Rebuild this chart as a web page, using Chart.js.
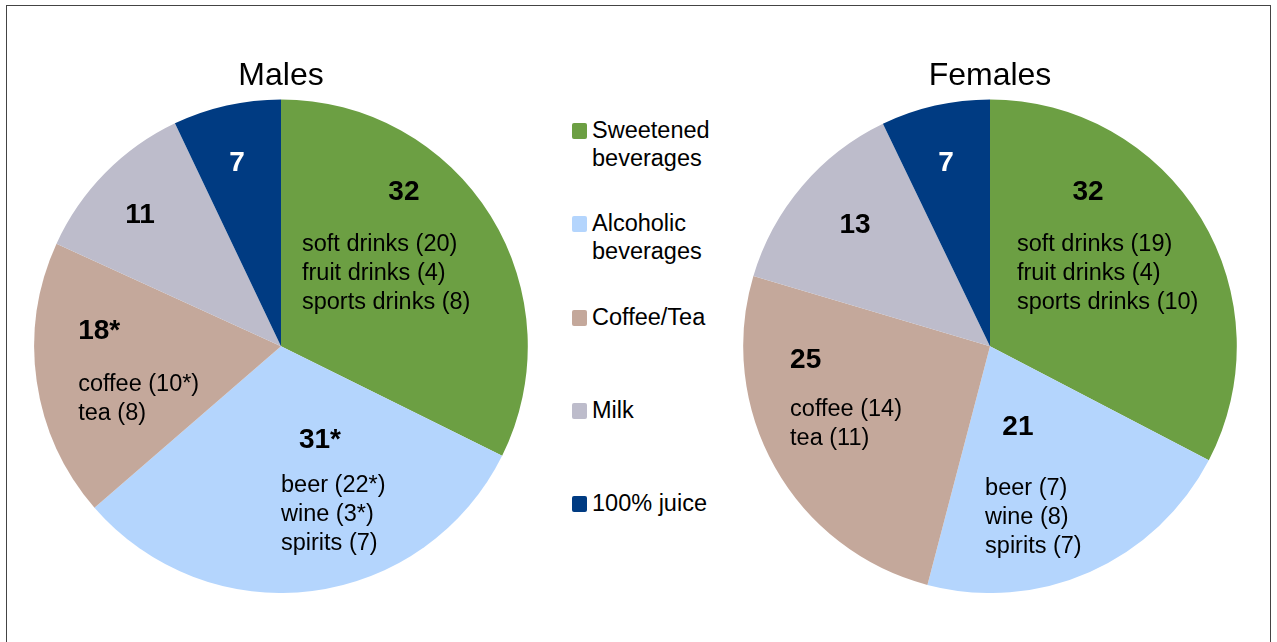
<!DOCTYPE html>
<html>
<head>
<meta charset="utf-8">
<script src="https://cdn.jsdelivr.net/npm/chart.js@4"></script>
<style>
  html, body { margin: 0; padding: 0; background: #fff; }
  #frame { position: absolute; left: 6px; top: 5px; width: 1265px; height: 660px; border: 1px solid #444; box-sizing: border-box; }
  .pie { position: absolute; top: 55px; width: 514px; height: 538px; }
  #males { left: 24px; }
  #females { left: 733px; }
  #legend { position: absolute; left: 572px; top: 116px; font-family: "Liberation Sans", Arial, sans-serif; font-size: 23.5px; color: #000; }
  #legend .item { position: relative; height: 93.3px; padding-left: 20px; line-height: 28px; }
  #legend .box { position: absolute; left: 0; top: 7px; width: 15px; height: 16px; border-radius: 2px; }
</style>
</head>
<body>
<div id="frame"></div>
<canvas id="males" class="pie" width="514" height="538"></canvas>
<canvas id="females" class="pie" width="514" height="538"></canvas>
<div id="legend"></div>
<script>
// beverage groups and their colours
const categories = ["Sweetened beverages", "Alcoholic beverages", "Coffee/Tea", "Milk", "100% juice"];
const legendLines = [["Sweetened", "beverages"], ["Alcoholic", "beverages"], ["Coffee/Tea"], ["Milk"], ["100% juice"]];
const colors = ["#6c9f43", "#b4d5fd", "#c4a89b", "#bdbccb", "#003b82"];

// share of beverage calories (%)
const malesValues = [32, 31, 18, 11, 7];
const malesStar = [false, true, true, false, false];
const femalesValues = [32, 21, 25, 13, 7];
const femalesStar = [false, false, false, false, false];

// breakdown inside each group
const subNames = [["soft drinks", "fruit drinks", "sports drinks"], ["beer", "wine", "spirits"], ["coffee", "tea"], [], []];
const malesSub = [[20, 4, 8], [22, 3, 7], [10, 8], [], []];
const malesSubStar = [[false, false, false], [true, true, false], [true, false], [], []];
const femalesSub = [[19, 4, 10], [7, 8, 7], [14, 11], [], []];
const femalesSubStar = [[false, false, false], [false, false, false], [false, false], [], []];

const FONT = "'Liberation Sans', Arial, sans-serif";

// where the text sits in each slice, in units of the pie radius from its centre
// num: [x, y, align] of the big number, sub: [left x, first line y]
const malesLayout = [
  { num: [0.498, -0.623, "center"], sub: [0.085, -0.413] },
  { num: [0.158, 0.381, "center"], sub: [0.0, 0.563] },
  { num: [-0.822, -0.061, "left"], sub: [-0.822, 0.154] },
  { num: [-0.571, -0.530, "center"], sub: null },
  { num: [-0.178, -0.741, "center"], sub: null }
];
const femalesLayout = [
  { num: [0.397, -0.623, "center"], sub: [0.109, -0.413] },
  { num: [0.113, 0.328, "center"], sub: [-0.020, 0.575] },
  { num: [-0.810, 0.057, "left"], sub: [-0.810, 0.255] },
  { num: [-0.547, -0.490, "center"], sub: null },
  { num: [-0.178, -0.741, "center"], sub: null }
];

const sliceLabels = {
  id: "sliceLabels",
  afterDatasetsDraw(chart, args, opts) {
    const ctx = chart.ctx;
    const arcs = chart.getDatasetMeta(0).data;
    const values = chart.data.datasets[0].data;
    ctx.save();
    arcs.forEach((arc, i) => {
      const lay = opts.layout[i];
      const r = arc.outerRadius;
      ctx.fillStyle = i === 4 ? "#fff" : "#000";
      ctx.textBaseline = "middle";
      ctx.font = "bold 28px " + FONT;
      ctx.textAlign = lay.num[2];
      ctx.fillText(values[i] + (opts.star[i] ? "*" : ""), arc.x + lay.num[0] * r, arc.y + lay.num[1] * r);
      if (lay.sub) {
        ctx.font = "23.5px " + FONT;
        ctx.textAlign = "left";
        subNames[i].forEach((name, j) => {
          const txt = name + " (" + opts.sub[i][j] + (opts.subStar[i][j] ? "*" : "") + ")";
          ctx.fillText(txt, arc.x + lay.sub[0] * r, arc.y + lay.sub[1] * r + j * 29);
        });
      }
    });
    ctx.restore();
  }
};

function makePie(id, title, values, star, sub, subStar, layout) {
  return new Chart(document.getElementById(id), {
    type: "pie",
    data: {
      labels: categories,
      datasets: [{
        data: values,
        backgroundColor: colors,
        borderWidth: 0
      }]
    },
    options: {
      responsive: false,
      animation: false,
      layout: { padding: 0 },
      plugins: {
        legend: { display: false },
        tooltip: { enabled: false },
        title: {
          display: true,
          text: title,
          color: "#000",
          font: { family: FONT, size: 32, weight: "normal", lineHeight: 1.2 },
          padding: { top: 2, bottom: 4 }
        },
        sliceLabels: { star: star, sub: sub, subStar: subStar, layout: layout }
      }
    },
    plugins: [sliceLabels]
  });
}

makePie("males", "Males", malesValues, malesStar, malesSub, malesSubStar, malesLayout);
makePie("females", "Females", femalesValues, femalesStar, femalesSub, femalesSubStar, femalesLayout);

// legend between the two pies
const legend = document.getElementById("legend");
categories.forEach((c, i) => {
  const item = document.createElement("div");
  item.className = "item";
  const box = document.createElement("span");
  box.className = "box";
  box.style.background = colors[i];
  item.appendChild(box);
  item.innerHTML += legendLines[i].join("<br>");
  legend.appendChild(item);
});
</script>
</body>
</html>
